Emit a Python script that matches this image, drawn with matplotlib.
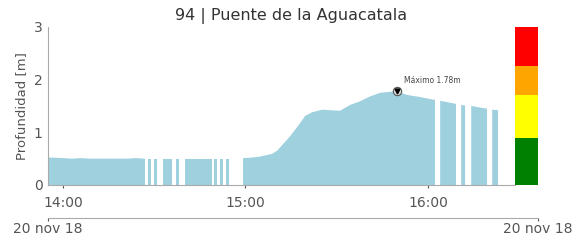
import numpy as np
import pandas as pd
import matplotlib
matplotlib.use("Agg")
import matplotlib.pyplot as plt
import matplotlib.dates as mdates

# minutos desde las 14:00 del 20 nov 2018 (NaN = sin dato)
minutos = [-5, -3, 0, 3, 6, 9, 12, 15, 18, 21, 24, 27.0, 27.4,
           27.9, 28.9, 29.4,
           29.9, 30.9, 31.9,
           32.9, 35.8, 36.5,
           37.2, 38.1, 39.0,
           40.1, 44, 49.0, 49.3,
           49.6, 50.6, 51.1,
           51.6, 52.6, 53.1,
           53.6, 54.6, 57.0,
           59.2, 62, 64.8, 68.7, 70.4, 74.6, 77.9, 79.6, 81.9, 85.2, 87.8,
           91.1, 94.4, 97.7, 100.9, 104.2, 107.5, 109.8, 113.1, 117.4,
           121.7, 122.3, 123.0,
           124.0, 129.2, 130.0,
           130.9, 132.2, 133.0,
           134.2, 137.2, 139.4, 140.0,
           141.1, 143.0]
profundidad = [0.52, 0.52, 0.51, 0.50, 0.51, 0.50, 0.50, 0.50, 0.50, 0.50, 0.51, 0.50, np.nan,
               0.49, 0.49, np.nan,
               0.49, 0.49, np.nan,
               0.49, 0.49, np.nan,
               0.49, 0.49, np.nan,
               0.49, 0.49, 0.49, np.nan,
               0.49, 0.49, np.nan,
               0.49, 0.49, np.nan,
               0.49, 0.49, np.nan,
               0.51, 0.52, 0.54, 0.59, 0.65, 0.92, 1.17, 1.31, 1.38, 1.43, 1.42,
               1.41, 1.52, 1.59, 1.68, 1.75, 1.77, 1.78, 1.71, 1.67,
               1.62, 1.62, np.nan,
               1.60, 1.54, np.nan,
               1.52, 1.51, np.nan,
               1.50, 1.47, 1.45, np.nan,
               1.43, 1.42]

# niveles de alerta (limite superior de cada franja)
niveles = [0.9, 1.7, 2.25, 3.0]
colores_nivel = ['#008000', '#ffff00', '#ffa500', '#ff0000']

titulo = '94 | Puente de la Aguacatala'
fecha = '20 nov 18'

inicio = pd.Timestamp('2018-11-20 14:00')
t = inicio + pd.to_timedelta(minutos, unit='m')
prof = np.array(profundidad, dtype=float)

gris = '#555555'
fig = plt.figure(figsize=(5.83, 2.41), dpi=100)
ax = fig.add_axes([0.0823, 0.2324, 0.8011, 0.6556])

ax.fill_between(t, 0, prof, color='#9ed0de', linewidth=0)

imax = np.nanargmax(prof)
ax.plot(t[imax], prof[imax], 'o', ms=6, mfc='#dddddd', mec='#555555', mew=0.8)
ax.plot(t[imax], prof[imax], 'v', ms=3.5, color='black')
ax.annotate('Máximo %.2fm' % prof[imax], (t[imax], prof[imax]),
            xytext=(5, 6), textcoords='offset points', fontsize=5.5, color='#444444')

ax.set_ylim(0, 3)
ax.set_yticks([0, 1, 2, 3])
ax.set_xlim(inicio - pd.Timedelta(minutes=4.9), inicio + pd.Timedelta(minutes=148.6))
ax.xaxis.set_major_locator(mdates.HourLocator())
ax.xaxis.set_major_formatter(mdates.DateFormatter('%H:%M'))
ax.set_ylabel('Profundidad [m]', fontsize=9.5, color=gris)
for s in ['top', 'right']:
    ax.spines[s].set_visible(False)
for s in ['left', 'bottom']:
    ax.spines[s].set_color('#aaaaaa')
    ax.spines[s].set_linewidth(0.8)
ax.tick_params(axis='x', length=2, pad=6, labelsize=10, colors=gris)
ax.tick_params(axis='y', length=0, pad=4, labelsize=10, colors=gris)

# barra de niveles
axn = fig.add_axes([0.8834, 0.2324, 0.0395, 0.6556])
base = 0
for top, c in zip(niveles, colores_nivel):
    axn.bar(0, top - base, bottom=base, width=1, color=c, linewidth=0)
    base = top
axn.set_xlim(-0.5, 0.5)
axn.set_ylim(0, 3)
axn.axis('off')

# eje de fecha
axf = fig.add_axes([0.0823, 0.0954, 0.8405, 0.001])
axf.set_xlim(0, 1)
axf.set_xticks([0, 1])
axf.set_xticklabels([fecha, fecha])
axf.set_yticks([])
for s in ['top', 'right', 'left']:
    axf.spines[s].set_visible(False)
axf.spines['bottom'].set_color('#aaaaaa')
axf.spines['bottom'].set_linewidth(0.8)
axf.tick_params(axis='x', length=2, pad=1, labelsize=10, colors=gris)
axf.patch.set_visible(False)

fig.suptitle(titulo, fontsize=11.5, color='#333333', y=0.965)

fig.savefig('out.png', dpi=100)
